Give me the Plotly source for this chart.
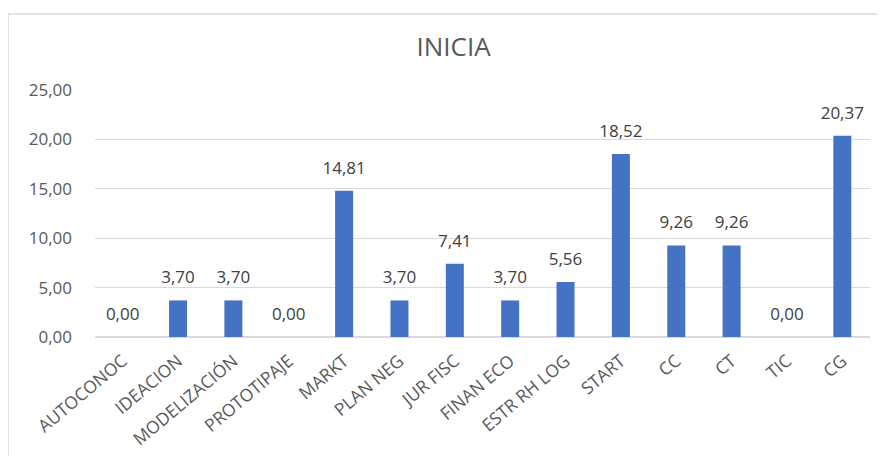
import plotly.graph_objects as go

categories = ["AUTOCONOC", "IDEACION", "MODELIZACIÓN", "PROTOTIPAJE", "MARKT", "PLAN NEG",
              "JUR FISC", "FINAN ECO", "ESTR RH LOG", "START", "CC", "CT", "TIC", "CG"]
values = [0.00, 3.70, 3.70, 0.00, 14.81, 3.70, 7.41, 3.70, 5.56, 18.52, 9.26, 9.26, 0.00, 20.37]
y_ticks = [0, 5, 10, 15, 20, 25]
y_tick_labels = ["0,00", "5,00", "10,00", "15,00", "20,00", "25,00"]
title = "INICIA"

labels = [f"{v:.2f}".replace(".", ",") for v in values]

# page offset of 8px (body margin) compensated in margins
L, R, T, B = 87, 23, 82, 127
W, H = 885, 456
pw, ph = W - L - R, H - T - B

fig = go.Figure()
fig.add_trace(go.Bar(
    x=categories, y=values,
    marker=dict(color="#4472C4", line=dict(width=0)),
    hoverinfo="x+y",
))
fig.add_trace(go.Scatter(
    x=categories, y=values, text=labels, mode="markers+text", textposition="top center",
    textfont=dict(size=17, color="#404040"),
    marker=dict(size=19, opacity=0), cliponaxis=False, hoverinfo="skip",
))

fig.update_layout(
    width=W, height=H,
    paper_bgcolor="white", plot_bgcolor="white",
    font=dict(family="Open Sans, Liberation Sans, sans-serif", color="#595959"),
    title=dict(text=title, xref="paper", x=(445.5 - L) / pw, xanchor="center",
               yref="container", y=1 - 39 / H, yanchor="middle",
               font=dict(size=26, color="#595959")),
    margin=dict(l=L, r=R, t=T, b=B, autoexpand=False),
    bargap=0.675,
    showlegend=False,
    shapes=[dict(type="rect", xref="paper", yref="paper",
                 x0=(0 - L) / pw, y0=(H - B - 6) / ph, x1=1.2, y1=-1.0,
                 line=dict(color="#d9d9d9", width=1.5), fillcolor="rgba(0,0,0,0)", layer="below")],
)
fig.update_xaxes(tickangle=-40, tickfont=dict(size=17.5, color="#595959"),
                 range=[-0.5, len(categories) - 0.5],
                 showline=True, linecolor="#d9d9d9", linewidth=1, ticks="", showgrid=False,
                 automargin=False, ticklabelstandoff=6)
fig.update_yaxes(range=[0, 25], tickvals=y_ticks, ticktext=y_tick_labels,
                 tickfont=dict(size=17, color="#595959"), showgrid=True, gridcolor="#d9d9d9",
                 gridwidth=1, zeroline=True, zerolinecolor="#d9d9d9", ticklabelstandoff=22,
                 automargin=False)

fig.write_html("out.html")
